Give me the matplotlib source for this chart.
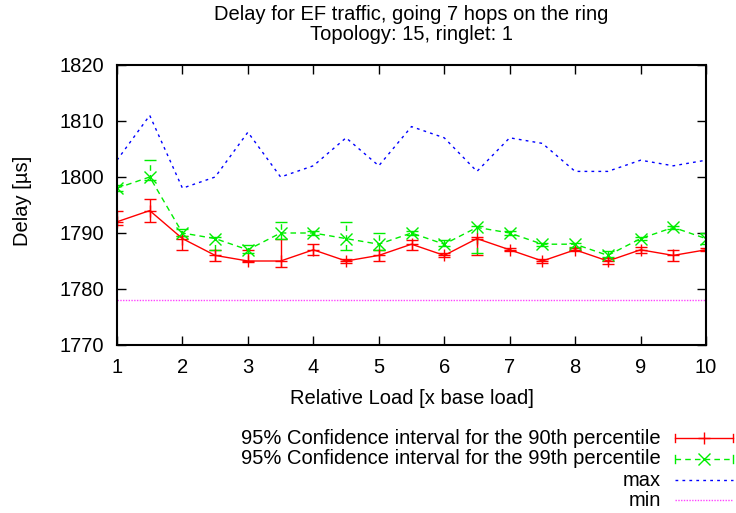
import matplotlib
matplotlib.use("Agg")
import matplotlib.pyplot as plt
from matplotlib.lines import Line2D

plt.rcParams['font.family'] = ['Liberation Sans', 'DejaVu Sans']

# relative load (x base load)
load = [1, 1.5, 2, 2.5, 3, 3.5, 4, 4.5, 5, 5.5, 6, 6.5, 7, 7.5, 8, 8.5, 9, 9.5, 10]

# 90th percentile delay with its 95% confidence interval
p90 = [1792, 1794, 1789, 1786, 1785, 1785, 1787, 1785, 1786, 1788,
       1786, 1789, 1787, 1785, 1787, 1785, 1787, 1786, 1787]
p90_lo = [1791.5, 1792, 1787, 1785, 1784.8, 1784, 1786, 1784.7, 1785, 1787,
          1785.7, 1786, 1786.7, 1784.7, 1786.7, 1784.5, 1786.5, 1785, 1786.7]
p90_hi = [1794, 1796, 1789.5, 1787, 1787, 1789, 1788, 1785.3, 1787, 1788.7,
          1786.5, 1789.3, 1787.3, 1785.3, 1787.3, 1785.5, 1787.5, 1787, 1787.3]

# 99th percentile delay with its 95% confidence interval
p99 = [1798, 1800, 1790, 1789, 1787, 1790, 1790, 1789, 1788, 1790,
       1788, 1791, 1790, 1788, 1788, 1786, 1789, 1791, 1789]
p99_lo = [1797.5, 1799.5, 1789.5, 1787, 1786.5, 1789, 1789.7, 1787, 1787, 1789.7,
          1787.7, 1786.5, 1789.7, 1787.7, 1787.5, 1785.8, 1788.7, 1790.7, 1788]
p99_hi = [1798.5, 1803, 1790.7, 1789.3, 1787.8, 1792, 1790.3, 1792, 1790, 1790.3,
          1788.8, 1791.3, 1790.3, 1788.3, 1788.3, 1786.7, 1789.3, 1791.3, 1790]

delay_max = [1803, 1811, 1798, 1800, 1808, 1800, 1802, 1807, 1802, 1809,
             1807, 1801, 1807, 1806, 1801, 1801, 1803, 1802, 1803]
delay_min = [1778] * len(load)

W, H = 736, 513
fs = 14.5
fig = plt.figure(figsize=(W / 100, H / 100), dpi=100)
ax = fig.add_axes([117 / W, 1 - 345 / H, (706 - 117) / W, (345 - 65) / H])

def err(v, lo, hi):
    return [[a - b for a, b in zip(v, lo)], [c - a for a, c in zip(v, hi)]]

red, green, blue, pink = '#ff0000', '#00ee00', '#0000ff', '#ff44ff'
dash99, dashmax, dotmin = (0, (4, 3)), (0, (2, 3)), (0, (1, 1))

ax.errorbar(load, p90, yerr=err(p90, p90_lo, p90_hi), color=red,
            lw=1, marker='+', ms=9, mew=1, capsize=4, elinewidth=1, capthick=1)
e99 = ax.errorbar(load, p99, yerr=err(p99, p99_lo, p99_hi), color=green,
                  lw=1, ls=dash99, marker='x', ms=8, mew=1, capsize=4,
                  elinewidth=1, capthick=1)
e99[2][0].set_linestyle(dash99)
ax.plot(load, delay_max, color=blue, lw=1, ls=dashmax)
ax.plot(load, delay_min, color=pink, lw=1, ls=dotmin)

ax.set_xlim(1, 10)
ax.set_ylim(1770, 1820)
ax.set_xticks(range(1, 11))
ax.set_yticks(range(1770, 1821, 10))
ax.tick_params(direction='in', length=6.5, width=1, top=True, right=True,
               labelsize=fs, pad=9.5)
for s in ax.spines.values():
    s.set_linewidth(1.5)

cx = (117 + 706) / 2 / W
fig.text(cx, 1 - 398 / H, 'Relative Load [x base load]', ha='center', va='center', fontsize=fs)
fig.text(23 / W, 1 - 201 / H, 'Delay [µs]', ha='center', va='center',
         rotation=90, fontsize=fs)
fig.text(cx, 1 - 15 / H, 'Delay for EF traffic, going 7 hops on the ring',
         ha='center', va='center', fontsize=fs)
fig.text(cx, 1 - 35 / H, 'Topology: 15, ringlet: 1',
         ha='center', va='center', fontsize=fs)

# key below the plot, text right-aligned next to the line samples
rows = [438, 459, 480, 500]
labels = ['95% Confidence interval for the 90th percentile',
          '95% Confidence interval for the 99th percentile', 'max', 'min']
for y, lab in zip(rows, labels):
    fig.text(661 / W, 1 - y / H, lab, ha='right', va='center', fontsize=fs)

x0, x1 = 675 / W, 733 / W
xm = (x0 + x1) / 2
tick = 4 / H
styles = [(red, '-'), (green, dash99), (blue, dashmax), (pink, dotmin)]
for i, (y, (c, ls)) in enumerate(zip(rows, styles)):
    yf = 1 - y / H
    fig.add_artist(Line2D([x0, x1], [yf, yf], lw=1, color=c, ls=ls,
                          transform=fig.transFigure))
    if i < 2:
        for xe in (x0, x1):
            fig.add_artist(Line2D([xe, xe], [yf - tick, yf + tick], lw=1,
                                  color=c, transform=fig.transFigure))
        fig.add_artist(Line2D([xm], [yf], marker='+' if i == 0 else 'x',
                              ms=9 if i == 0 else 8, mew=1, color=c,
                              transform=fig.transFigure))

fig.savefig('out.png', dpi=100)
